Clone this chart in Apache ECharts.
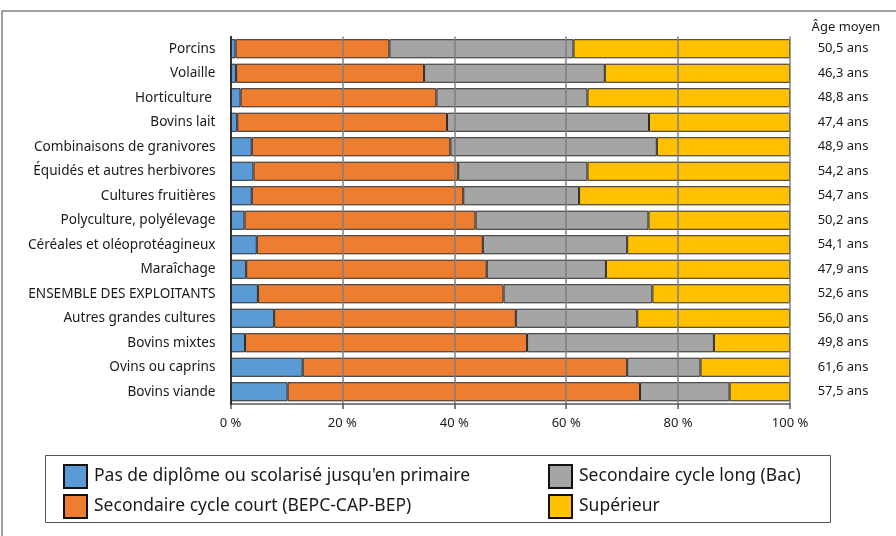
<!DOCTYPE html>
<html>
<head>
<meta charset="utf-8">
<script src="https://cdn.jsdelivr.net/npm/echarts@6/dist/echarts.min.js"></script>
<style>
html,body{margin:0;padding:0;background:#fff;}
#chart{width:896px;height:536px;}
</style>
</head>
<body>
<div id="chart"></div>
<script>
const categories = [
  "Porcins", "Volaille", "Horticulture ", "Bovins lait", "Combinaisons de granivores",
  "Équidés et autres herbivores", "Cultures fruitières", "Polyculture, polyélevage",
  "Céréales et oléoprotéagineux", "Maraîchage", "ENSEMBLE DES EXPLOITANTS",
  "Autres grandes cultures", "Bovins mixtes", "Ovins ou caprins", "Bovins viande"
];
const seriesNames = [
  "Pas de diplôme ou scolarisé jusqu'en primaire",
  "Secondaire cycle court (BEPC-CAP-BEP)",
  "Secondaire cycle long (Bac)",
  "Supérieur"
];
const sansDiplome = [0.9, 1.0, 1.8, 1.2, 3.8, 4.1, 3.8, 2.5, 4.7, 2.8, 4.9, 7.8, 2.6, 12.9, 10.2];
const cycleCourt  = [27.5, 33.6, 35.0, 37.5, 35.5, 36.6, 37.8, 41.3, 40.4, 43.0, 43.9, 43.2, 50.4, 58.0, 63.0];
const cycleLong   = [32.9, 32.3, 27.0, 36.1, 36.9, 23.1, 20.7, 30.9, 25.8, 21.3, 26.6, 21.7, 33.4, 13.1, 16.0];
const superieur   = [38.7, 33.1, 36.2, 25.2, 23.8, 36.2, 37.7, 25.3, 29.1, 32.9, 24.6, 27.3, 13.6, 16.0, 10.8];
const agesMoyens  = [50.5, 46.3, 48.8, 47.4, 48.9, 54.2, 54.7, 50.2, 54.1, 47.9, 52.6, 56.0, 49.8, 61.6, 57.5];
const xTicks = [0, 20, 40, 60, 80, 100];

const colors = ["#5B9BD5", "#ED7D31", "#A5A5A5", "#FFC000"];
const values = [sansDiplome, cycleCourt, cycleLong, superieur];
const FONT = "Noto Sans";

const chart = echarts.init(document.getElementById('chart'), null, {renderer: 'canvas'});

const series = seriesNames.map((name, i) => ({
  name: name,
  type: 'bar',
  stack: 'total',
  yAxisIndex: 0,
  barCategoryGap: '22%',
  itemStyle: {color: colors[i], borderColor: '#2b2b2b', borderWidth: 1},
  emphasis: {disabled: true},
  data: values[i]
}));

const legendBase = {
  orient: 'vertical', top: 464, padding: 0,
  itemWidth: 23, itemHeight: 23, itemGap: 5, icon: 'rect', selectedMode: false,
  itemStyle: {borderColor: '#111', borderWidth: 2},
  textStyle: {color: '#1a1a1a', fontSize: 17.5, fontFamily: FONT, padding: [0, 0, 0, 2]}
};

const option = {
  animation: false,
  textStyle: {fontFamily: FONT},
  grid: {left: 230.5, right: 106, top: 36.5, bottom: 132, containLabel: false},
  xAxis: {
    type: 'value', min: xTicks[0], max: xTicks[xTicks.length - 1], interval: 20,
    z: 5,
    axisLine: {show: true, lineStyle: {color: '#555', width: 1.5}},
    axisTick: {show: true, length: 5, lineStyle: {color: '#555', width: 1.5}},
    axisLabel: {formatter: v => v + ' %', color: '#1a1a1a', fontSize: 13, margin: 13, fontFamily: FONT},
    splitLine: {show: true, lineStyle: {color: '#7f7f7f', width: 1.5}}
  },
  yAxis: [{
    type: 'category', data: categories, inverse: true, z: 6,
    axisLine: {show: true, lineStyle: {color: '#111', width: 1.5}},
    axisTick: {show: false},
    axisLabel: {color: '#1a1a1a', fontSize: 13.6, margin: 15, fontFamily: FONT}
  }, {
    type: 'category', data: categories, inverse: true, position: 'right',
    axisLine: {show: false}, axisTick: {show: false},
    axisLabel: {
      color: '#1a1a1a', fontSize: 13, margin: 53, align: 'center', fontFamily: FONT,
      formatter: (v, idx) => agesMoyens[idx].toFixed(1).replace('.', ',') + ' ans'
    }
  }],
  legend: [
    Object.assign({}, legendBase, {data: seriesNames.slice(0, 2), left: 63}),
    Object.assign({}, legendBase, {data: seriesNames.slice(2, 4), left: 548})
  ],
  graphic: [
    {type: 'polyline', shape: {points: [[2, 536], [2, 11], [896, 11]]}, style: {stroke: '#808080', lineWidth: 1.5, fill: null}, silent: true},
    {type: 'rect', shape: {x: 45.5, y: 455.5, width: 785, height: 67}, style: {stroke: '#555', lineWidth: 1, fill: null}, silent: true},
    {type: 'text', x: 846, y: 27, style: {text: 'Âge moyen', fontSize: 13, fontFamily: FONT, fill: '#1a1a1a', textAlign: 'center', textVerticalAlign: 'middle'}, silent: true}
  ],
  series: series
};
chart.setOption(option);
</script>
</body>
</html>
